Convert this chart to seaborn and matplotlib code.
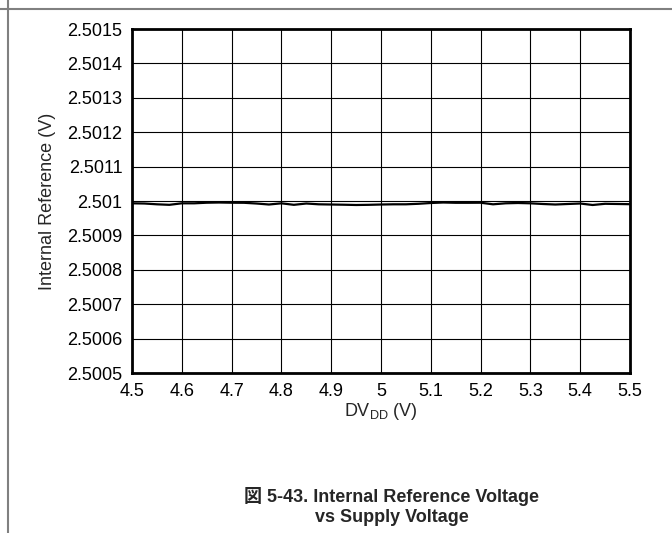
import matplotlib
matplotlib.use('Agg')
import matplotlib.pyplot as plt
import seaborn as sns
from matplotlib.lines import Line2D
from matplotlib.ticker import FuncFormatter, MultipleLocator

# supply voltage sweep (V)
dvdd = [4.500, 4.525, 4.550, 4.575, 4.600, 4.625, 4.650, 4.675, 4.700, 4.725,
        4.750, 4.775, 4.800, 4.825, 4.850, 4.875, 4.900, 4.925, 4.950, 4.975,
        5.000, 5.025, 5.050, 5.075, 5.100, 5.125, 5.150, 5.175, 5.200, 5.225,
        5.250, 5.275, 5.300, 5.325, 5.350, 5.375, 5.400, 5.425, 5.450, 5.475,
        5.500]
# internal reference (V)
vref = [2.5009933, 2.5009927, 2.5009904, 2.5009889, 2.5009933, 2.5009933,
        2.5009950, 2.5009956, 2.5009950, 2.5009948, 2.5009927, 2.5009898,
        2.5009933, 2.5009889, 2.5009927, 2.5009904, 2.5009898, 2.5009892,
        2.5009884, 2.5009889, 2.5009898, 2.5009904, 2.5009904, 2.5009919,
        2.5009942, 2.5009956, 2.5009948, 2.5009948, 2.5009950, 2.5009904,
        2.5009933, 2.5009942, 2.5009933, 2.5009913, 2.5009898, 2.5009913,
        2.5009927, 2.5009884, 2.5009919, 2.5009913, 2.5009907]

x_ticks = [4.5, 4.6, 4.7, 4.8, 4.9, 5.0, 5.1, 5.2, 5.3, 5.4, 5.5]

sns.set_style('white')
plt.rcParams['font.family'] = ['Liberation Sans', 'DejaVu Sans']
plt.rcParams['mathtext.fontset'] = 'custom'
plt.rcParams['mathtext.rm'] = 'Liberation Sans'

fig = plt.figure(figsize=(6.72, 5.33), dpi=100)
ax = fig.add_axes([132 / 672, 1 - 373 / 533, 498 / 672, 344 / 533])

sns.lineplot(x=dvdd, y=vref, ax=ax, color='black', linewidth=1.6)

ax.set_xlim(4.5, 5.5)
ax.set_ylim(2.5005, 2.5015)
ax.set_xticks(x_ticks)
ax.xaxis.set_major_formatter(FuncFormatter(lambda v, p: f'{v:.1f}'.rstrip('0').rstrip('.')))
ax.yaxis.set_major_locator(MultipleLocator(0.0001))
ax.yaxis.set_major_formatter(FuncFormatter(lambda v, p: f'{v:.4f}'.rstrip('0')))

ax.grid(True, color='black', linewidth=0.8)
ax.set_axisbelow(True)
for s in ax.spines.values():
    s.set_visible(True)
    s.set_color('black')
    s.set_linewidth(2)

ax.tick_params(axis='both', length=0, labelsize=13, colors='black')
ax.tick_params(axis='x', pad=7)
ax.tick_params(axis='y', pad=7)

ax.set_xlabel(r'DV$_{\mathregular{DD}}$ (V)', fontsize=13, labelpad=1)
ax.set_ylabel('Internal Reference (V)', fontsize=13, labelpad=8)

# page frame lines
fig.add_artist(Line2D([0, 1], [1 - 9 / 533, 1 - 9 / 533], color='#808080', linewidth=1.5))
fig.add_artist(Line2D([8 / 672, 8 / 672], [0, 1], color='#808080', linewidth=1.5))

cap_font = ['Liberation Sans Narrow', 'Liberation Sans', 'Noto Sans CJK JP']
fig.text(392 / 672, 1 - 496 / 533, '図 5-43. Internal Reference Voltage',
         ha='center', va='center', fontsize=13, fontweight='bold', family=cap_font)
fig.text(392 / 672, 1 - 518 / 533, 'vs Supply Voltage',
         ha='center', va='center', fontsize=13, fontweight='bold', family=cap_font)

fig.savefig('out.png', dpi=100)
